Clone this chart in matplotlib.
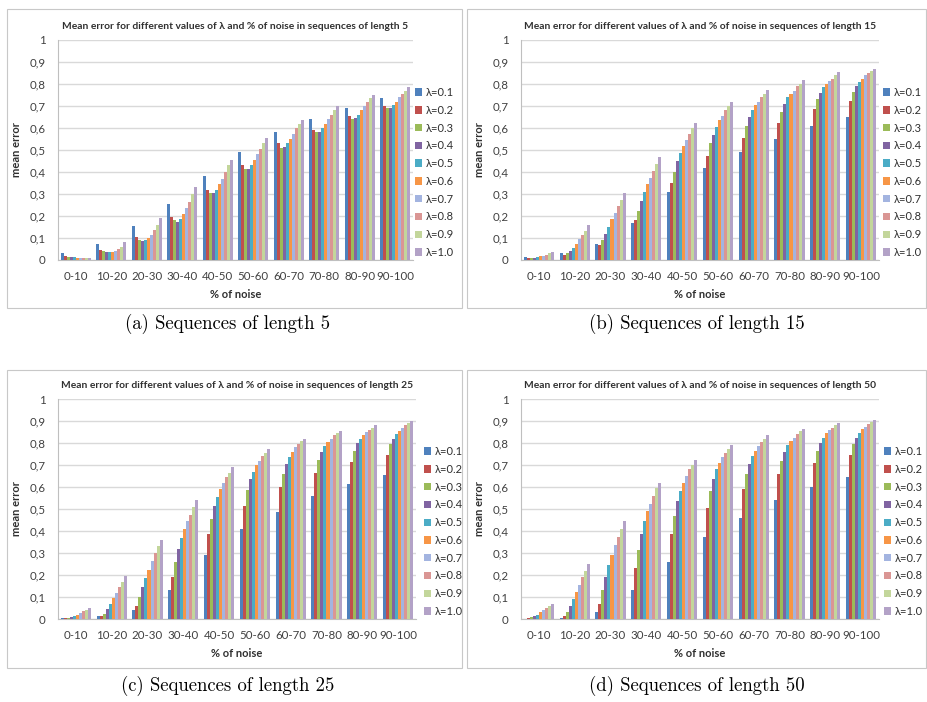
import matplotlib
matplotlib.use("Agg")
import matplotlib.pyplot as plt
import numpy as np
from matplotlib.patches import Rectangle

categories = ["0-10", "10-20", "20-30", "30-40", "40-50", "50-60", "60-70", "70-80", "80-90", "90-100"]
lambdas = ["λ=0.1", "λ=0.2", "λ=0.3", "λ=0.4", "λ=0.5", "λ=0.6", "λ=0.7", "λ=0.8", "λ=0.9", "λ=1.0"]
ytick_values = [0, 0.1, 0.2, 0.3, 0.4, 0.5, 0.6, 0.7, 0.8, 0.9, 1.0]
ytick_labels = ["0", "0,1", "0,2", "0,3", "0,4", "0,5", "0,6", "0,7", "0,8", "0,9", "1"]

# rows = noise group, columns = lambda 0.1 .. 1.0
err_len5 = [
    [0.030, 0.020, 0.015, 0.012, 0.012, 0.011, 0.011, 0.010, 0.010, 0.008],
    [0.075, 0.045, 0.040, 0.035, 0.035, 0.037, 0.040, 0.050, 0.060, 0.080],
    [0.155, 0.105, 0.090, 0.085, 0.090, 0.100, 0.115, 0.135, 0.160, 0.190],
    [0.255, 0.195, 0.180, 0.175, 0.185, 0.210, 0.235, 0.265, 0.300, 0.330],
    [0.380, 0.320, 0.305, 0.305, 0.320, 0.345, 0.370, 0.400, 0.430, 0.455],
    [0.490, 0.430, 0.415, 0.415, 0.430, 0.455, 0.480, 0.505, 0.530, 0.555],
    [0.580, 0.530, 0.510, 0.515, 0.530, 0.550, 0.575, 0.600, 0.620, 0.635],
    [0.640, 0.590, 0.580, 0.580, 0.600, 0.620, 0.640, 0.660, 0.680, 0.700],
    [0.690, 0.655, 0.640, 0.645, 0.660, 0.680, 0.700, 0.720, 0.735, 0.750],
    [0.735, 0.700, 0.690, 0.690, 0.705, 0.720, 0.740, 0.755, 0.770, 0.785],
]
err_len15 = [
    [0.013, 0.010, 0.010, 0.010, 0.013, 0.016, 0.020, 0.025, 0.030, 0.035],
    [0.030, 0.022, 0.030, 0.040, 0.055, 0.075, 0.095, 0.115, 0.130, 0.160],
    [0.075, 0.070, 0.090, 0.120, 0.150, 0.185, 0.215, 0.245, 0.275, 0.305],
    [0.170, 0.180, 0.225, 0.270, 0.310, 0.345, 0.375, 0.405, 0.435, 0.470],
    [0.310, 0.350, 0.400, 0.450, 0.485, 0.520, 0.545, 0.575, 0.600, 0.625],
    [0.420, 0.475, 0.530, 0.570, 0.605, 0.635, 0.655, 0.680, 0.700, 0.720],
    [0.490, 0.555, 0.610, 0.650, 0.680, 0.705, 0.720, 0.740, 0.755, 0.775],
    [0.550, 0.625, 0.675, 0.710, 0.740, 0.755, 0.770, 0.790, 0.800, 0.820],
    [0.610, 0.685, 0.730, 0.760, 0.785, 0.800, 0.815, 0.825, 0.840, 0.855],
    [0.650, 0.725, 0.765, 0.790, 0.810, 0.825, 0.840, 0.850, 0.860, 0.870],
]
err_len25 = [
    [0.003, 0.004, 0.006, 0.010, 0.015, 0.020, 0.027, 0.035, 0.042, 0.050],
    [0.012, 0.013, 0.022, 0.045, 0.070, 0.095, 0.120, 0.145, 0.170, 0.195],
    [0.040, 0.060, 0.100, 0.145, 0.185, 0.225, 0.265, 0.300, 0.330, 0.360],
    [0.130, 0.190, 0.260, 0.320, 0.370, 0.410, 0.445, 0.475, 0.510, 0.540],
    [0.290, 0.385, 0.455, 0.515, 0.555, 0.590, 0.620, 0.645, 0.665, 0.690],
    [0.410, 0.515, 0.585, 0.635, 0.670, 0.700, 0.720, 0.740, 0.755, 0.775],
    [0.485, 0.600, 0.660, 0.705, 0.735, 0.760, 0.780, 0.795, 0.810, 0.820],
    [0.560, 0.665, 0.725, 0.760, 0.785, 0.805, 0.820, 0.835, 0.845, 0.855],
    [0.615, 0.715, 0.765, 0.800, 0.820, 0.835, 0.850, 0.860, 0.870, 0.880],
    [0.655, 0.745, 0.795, 0.820, 0.840, 0.855, 0.870, 0.880, 0.890, 0.900],
]
err_len50 = [
    [0.002, 0.004, 0.008, 0.013, 0.020, 0.030, 0.040, 0.050, 0.060, 0.070],
    [0.005, 0.012, 0.030, 0.058, 0.090, 0.122, 0.155, 0.190, 0.220, 0.250],
    [0.030, 0.070, 0.130, 0.190, 0.245, 0.290, 0.335, 0.375, 0.410, 0.445],
    [0.130, 0.230, 0.315, 0.385, 0.445, 0.490, 0.525, 0.560, 0.595, 0.620],
    [0.260, 0.385, 0.470, 0.535, 0.580, 0.620, 0.650, 0.680, 0.700, 0.725],
    [0.375, 0.505, 0.580, 0.635, 0.680, 0.710, 0.735, 0.755, 0.775, 0.790],
    [0.460, 0.590, 0.660, 0.705, 0.740, 0.765, 0.785, 0.805, 0.820, 0.835],
    [0.540, 0.660, 0.720, 0.760, 0.790, 0.810, 0.825, 0.840, 0.855, 0.865],
    [0.600, 0.710, 0.765, 0.800, 0.825, 0.845, 0.860, 0.870, 0.880, 0.890],
    [0.645, 0.745, 0.795, 0.825, 0.845, 0.865, 0.875, 0.885, 0.895, 0.905],
]
lengths = [5, 15, 25, 50]
captions = ["(a) Sequences of length 5", "(b) Sequences of length 15",
            "(c) Sequences of length 25", "(d) Sequences of length 50"]

colors = ["#4F81BD", "#C0504D", "#9BBB59", "#8064A2", "#4BACC6",
          "#F79646", "#A3B4E0", "#DA9694", "#C3D69B", "#B3A2C7"]

W, H = 928, 702
fig = plt.figure(figsize=(W / 100, H / 100), dpi=100)
fig.patch.set_facecolor("white")
SANS = ["Lato", "DejaVu Sans"]

def fx(px):
    return px / W

def fy(py):
    return 1 - py / H

panels = [
    dict(pa=(58, 413, 40, 260), box=(7, 9, 462, 308), leg=(415, 87), cap=(228, 324)),
    dict(pa=(521, 879, 40, 260), box=(467, 9, 926, 308), leg=(883, 87), cap=(697, 324)),
    dict(pa=(58, 416, 399, 619), box=(7, 370, 462, 668), leg=(424, 446), cap=(228, 686)),
    dict(pa=(521, 879, 399, 619), box=(467, 370, 926, 668), leg=(884, 446), cap=(697, 686)),
]
datasets = [err_len5, err_len15, err_len25, err_len50]

for p, data, L, cap in zip(panels, datasets, lengths, captions):
    l, r, t, b = p["pa"]
    bl, bt, br, bb = p["box"]
    fig.patches.append(Rectangle((fx(bl), fy(bb)), fx(br - bl), (bb - bt) / H,
                                 transform=fig.transFigure, fill=False,
                                 edgecolor="#C8C8C8", linewidth=0.8, zorder=0))
    ax = fig.add_axes([fx(l), fy(b), fx(r - l), (b - t) / H])
    arr = np.array(data)
    x = np.arange(len(categories))
    w = 0.084
    for j, lab in enumerate(lambdas):
        ax.bar(x + (j - 4.5) * w, arr[:, j], width=w, color=colors[j],
               label=lab, linewidth=0, zorder=3)
    ax.set_xlim(-0.5, len(categories) - 0.5)
    ax.set_ylim(0, 1)
    ax.set_yticks(ytick_values)
    ax.set_yticklabels(ytick_labels, fontsize=8.3, family=SANS, color="#404040")
    ax.set_xticks(x)
    ax.set_xticklabels(categories, fontsize=8.3, family=SANS, color="#404040")
    ax.tick_params(axis="x", length=0, pad=8)
    ax.tick_params(axis="y", length=0, pad=9)
    ax.grid(axis="y", color="#D9D9D9", linewidth=1.0, zorder=0)
    for s in ["top", "right"]:
        ax.spines[s].set_visible(False)
    ax.spines["left"].set_color("#BFBFBF")
    ax.spines["bottom"].set_color("#BFBFBF")
    ax.set_title(f"Mean error for different values of λ and % of noise in sequences of length {L}",
                 fontsize=7.4, fontweight="bold", family=SANS, color="#303030", pad=8)
    ax.set_xlabel("% of noise", fontsize=8, fontweight="bold", family=SANS, color="#303030", labelpad=5)
    ax.set_ylabel("mean error", fontsize=8, fontweight="bold", family=SANS, color="#303030", labelpad=5)
    lx, ly = p["leg"]
    ax.legend(loc="upper left", bbox_to_anchor=(fx(lx), fy(ly)), bbox_transform=fig.transFigure,
              frameon=False, prop={"family": SANS, "size": 8.0}, handlelength=0.65,
              handleheight=0.65, handletextpad=0.3, labelspacing=0.61, borderaxespad=0,
              borderpad=0, labelcolor="#303030")
    cx, cy = p["cap"]
    fig.text(fx(cx), fy(cy), cap, ha="center", va="center", fontsize=13.5, family="cmr10")

fig.savefig("out.png", dpi=100)
